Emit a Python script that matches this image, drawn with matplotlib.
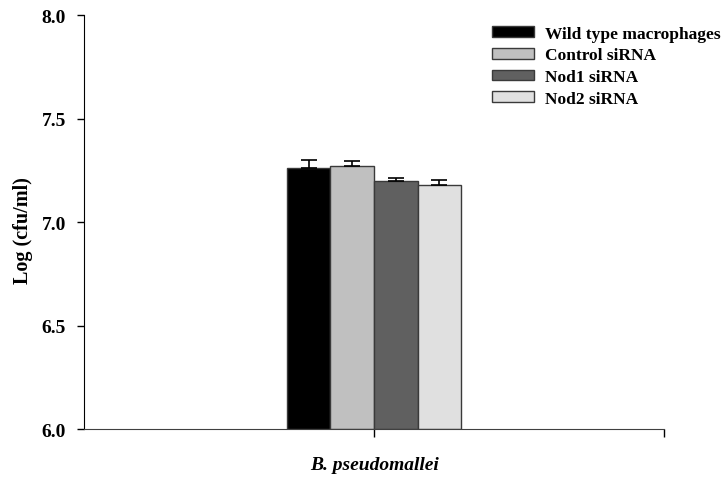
import numpy as np
import matplotlib.pyplot as plt

# data
groups = ["Wild type macrophages", "Control siRNA", "Nod1 siRNA", "Nod2 siRNA"]
log_cfu = [7.262, 7.269, 7.197, 7.177]
err = [0.036, 0.027, 0.017, 0.028]
colors = ["#000000", "#c0c0c0", "#606060", "#e0e0e0"]
category = "B. pseudomallei"

plt.rcParams['font.family'] = ['Liberation Serif', 'DejaVu Serif']
plt.rcParams['font.weight'] = 'bold'

fig = plt.figure(figsize=(7.22, 4.81), dpi=100)
ax = fig.add_axes([0.1163, 0.106, 0.8034, 0.8607])

width = 0.075
center = 0.5
offsets = (np.arange(len(groups)) - (len(groups) - 1) / 2) * width
for i in range(len(groups)):
    ax.bar(center + offsets[i], log_cfu[i] - 6.0, width, bottom=6.0,
           color=colors[i], edgecolor="#3a3a3a", linewidth=1.0, label=groups[i])
    ax.errorbar(center + offsets[i], log_cfu[i], yerr=[[0], [err[i]]],
                fmt="none", ecolor="black", elinewidth=1.2, capsize=6, capthick=1.2)

ax.set_xlim(0, 1)
ax.set_ylim(6.0, 8.0)
ax.set_yticks([6.0, 6.5, 7.0, 7.5, 8.0])
ax.set_yticklabels(["6.0", "6.5", "7.0", "7.5", "8.0"], fontsize=14, fontweight='bold')
ax.set_xticks([0.5, 1.0])
ax.set_xticklabels(["", ""])
ax.tick_params(axis='y', direction='out', length=5, width=1, pad=8)
ax.tick_params(axis='x', direction='out', length=6, width=1)
ax.spines['top'].set_visible(False)
ax.spines['right'].set_visible(False)
ax.spines['left'].set_color('black')
ax.spines['bottom'].set_color('#404040')

fig.text(0.032, 0.52, "Log (cfu/ml)", rotation=90, ha='center', va='center',
         fontsize=14.5, fontweight='bold')
fig.text(0.519, 0.033, category, ha='center', va='center', fontsize=14,
         fontweight='bold', fontstyle='italic')

ax.legend(loc='upper left', bbox_to_anchor=(0.682, 0.944), bbox_transform=fig.transFigure,
          frameon=False, prop={'size': 12.5, 'weight': 'bold'}, borderpad=0,
          borderaxespad=0, handlelength=2.4, handleheight=0.57, handletextpad=0.65,
          labelspacing=0.32)

fig.savefig("out.png", dpi=100)
